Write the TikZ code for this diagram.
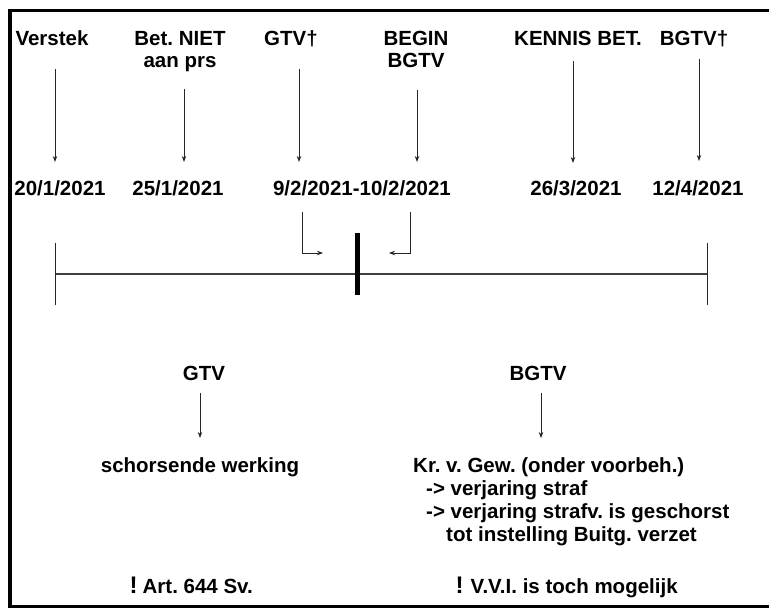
\documentclass[tikz,border=0pt]{standalone}
\usepackage{fontspec}
\setmainfont{Liberation Sans}
\usetikzlibrary{arrows.meta,calc}
\frenchspacing

\tikzset{
  lbl/.style={font=\fontsize{20.5}{22}\selectfont\bfseries, inner sep=0pt, anchor=base},
  blok/.style={font=\fontsize{20.5}{23}\selectfont\bfseries, inner sep=0pt, align=left, anchor=north west},
  pijl/.style={-{Stealth[length=6pt,width=4.5pt]}, line width=0.8pt, black!85},
  tijdlijn/.style={line width=1.4pt, black!75},
  streep/.style={line width=1pt, black!85},
}

\begin{document}
\begin{tikzpicture}[x=1pt,y=-1pt]
\useasboundingbox (0,0) rectangle (769,608);
% kader
\draw[line width=3.5pt] (772,10.5) -- (10,10.5) -- (10,606.5) -- (772,606.5);

% gebeurtenissen
\node[lbl] (verstek) at (52,45) {Verstek};
\node[lbl,align=center,anchor=north] (betniet) at (180,31) {Bet. NIET\\aan prs};
\node[lbl] (gtvdood) at (291,45) {GTV†};
\node[lbl,align=center,anchor=north] (begin) at (416,31) {BEGIN\\BGTV};
\node[lbl] (kennis) at (578,45) {KENNIS BET.};
\node[lbl] (bgtvdood) at (694,45) {BGTV†};

% datums
\node[lbl] (d1) at (60,195) {20/1/2021};
\node[lbl] (d2) at (178,195) {25/1/2021};
\node[lbl] (d3) at (362,195) {9/2/2021-10/2/2021};
\node[lbl] (d4) at (576,195) {26/3/2021};
\node[lbl] (d5) at (698,195) {12/4/2021};

\foreach \a/\b/\dx/\sa/\sb in {verstek/d1/3/24/18, betniet/d2/4/17/18, gtvdood/d3/8/22/18,
    begin/d3/1/22/18, kennis/d4/-5/16/17, bgtvdood/d5/5/12/19}
  \draw[pijl, shorten <=\sa pt, shorten >=\sb pt] ($(\a.south)+(\dx,0)$) -- ($(\a.south |- \b.north)+(\dx,0)$);

% tijdlijn
\coordinate (links) at (55,274);
\coordinate (rechts) at (707,274);
\coordinate (breuk) at (357,274);
\draw[tijdlijn] (links) -- (rechts);
\draw[streep] (links) ++(0,-31) -- ++(0,62);
\draw[streep] (rechts) ++(0,-31) -- ++(0,62);
\draw[line width=5pt] (breuk) ++(0,-41) -- ++(0,62);

\coordinate (gtvpijl) at (302,212);
\coordinate (bgtvpijl) at (410,212);
\draw[pijl] (gtvpijl) |- ++(21,41);
\draw[pijl] (bgtvpijl) |- ++(-21,41);

% gevolgen
\node[lbl] (gtv) at (204,380) {GTV};
\node[lbl] (bgtv) at (538,380) {BGTV};
\node[lbl] (schors) at (200,472) {schorsende werking};
\node[blok] (kr) at (413,457) {Kr. v. Gew. (onder voorbeh.)\\
  \hspace*{13pt}-> verjaring straf\\
  \hspace*{13pt}-> verjaring strafv. is geschorst\\
  \hspace*{33pt}tot instelling Buitg. verzet};

\draw[pijl, shorten <=13pt, shorten >=19pt] ($(gtv.south)+(-4,0)$) -- ($(gtv.south |- schors.north)+(-4,0)$);
\draw[pijl, shorten <=13pt, shorten >=19pt] ($(bgtv.south)+(3,0)$) -- ($(bgtv.south |- kr.north)+(3,0)$);

% opmerkingen
\node[lbl,anchor=base west] (art) at (129.5,593) {{\fontsize{24}{24}\selectfont !}\hspace{5pt}Art. 644 Sv.};
\node[lbl,anchor=base west] (vvi) at (455.5,593) {{\fontsize{24}{24}\selectfont !}\hspace{7pt}V.V.I. is toch mogelijk};
\end{tikzpicture}
\end{document}
